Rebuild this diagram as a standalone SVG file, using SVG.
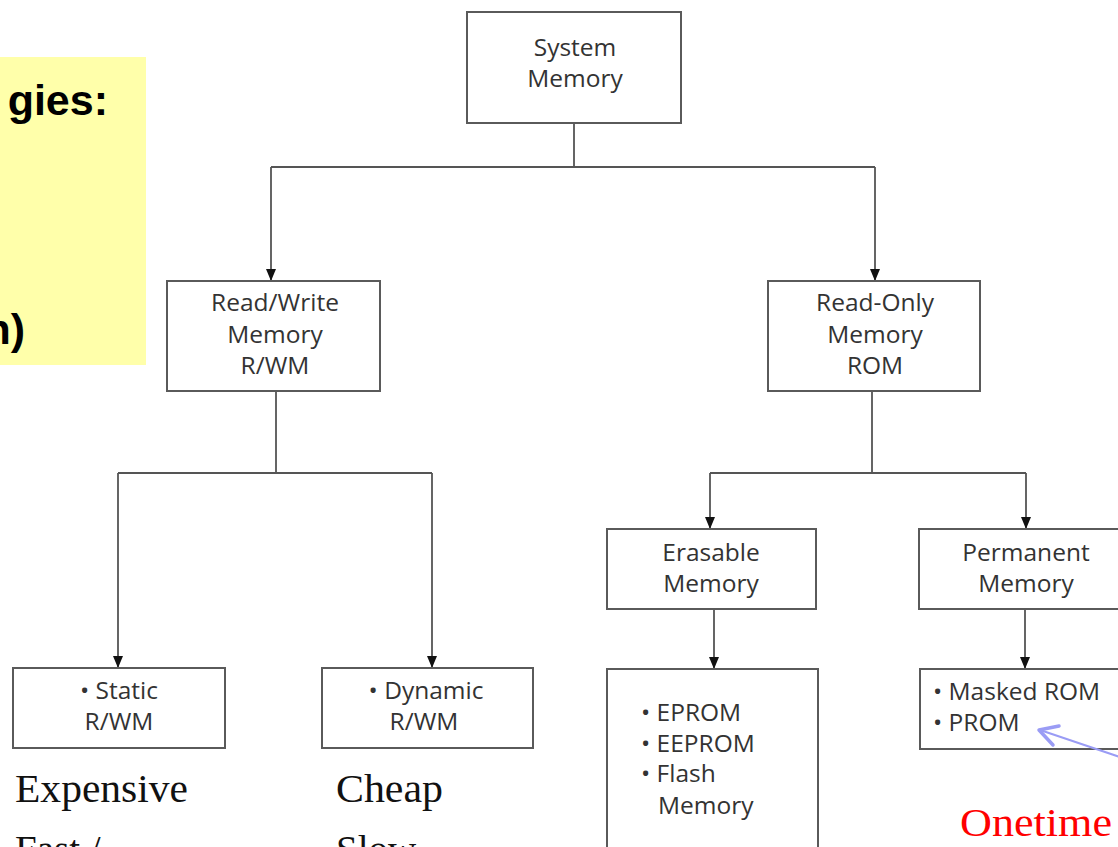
<svg xmlns="http://www.w3.org/2000/svg" width="1118" height="847" viewBox="0 0 1118 847">
<defs>
<style>
.box{fill:#fff;stroke:#5a5a5a;stroke-width:2}
.t{font-family:"Open Sans","DejaVu Sans",sans-serif;font-size:24.5px;fill:#333;text-anchor:middle}
.l{font-family:"Open Sans","DejaVu Sans",sans-serif;font-size:24.5px;fill:#333}
.c{stroke:#555;stroke-width:1.8;fill:none}
.s{font-family:"Liberation Serif","Times New Roman",serif;font-size:39px;fill:#111}
</style>
</defs>
<rect width="1118" height="847" fill="#fff"/>
<g id="note">
<rect x="-2" y="57" width="148" height="308" fill="#ffffaa"/>
<text x="108" y="115" font-family="Liberation Sans,Arial,sans-serif" font-weight="bold" font-size="43" text-anchor="end" fill="#000">gies:</text>
<text x="25" y="344" font-family="Liberation Sans,Arial,sans-serif" font-weight="bold" font-size="43" text-anchor="end" fill="#000">n)</text>
</g>
<g id="connectors">
<path class="c" d="M574,123 V167 M271,167 H875"/>
<line class="c" x1="271" y1="167" x2="271" y2="281"/>
<line class="c" x1="875" y1="167" x2="875" y2="281"/>
<path class="c" d="M276,391 V473 M118,473 H432"/>
<line class="c" x1="118" y1="473" x2="118" y2="668"/>
<line class="c" x1="432" y1="473" x2="432" y2="668"/>
<path class="c" d="M872,391 V473 M710,473 H1026"/>
<line class="c" x1="710" y1="473" x2="710" y2="529"/>
<line class="c" x1="1026" y1="473" x2="1026" y2="529"/>
<line class="c" x1="714" y1="609" x2="714" y2="669"/>
<line class="c" x1="1025" y1="609" x2="1025" y2="669"/>
<g fill="#111">
<path d="M266,269 L276,269 L271,281 Z"/>
<path d="M870,269 L880,269 L875,281 Z"/>
<path d="M113,656 L123,656 L118,668 Z"/>
<path d="M427,656 L437,656 L432,668 Z"/>
<path d="M705,517 L715,517 L710,529 Z"/>
<path d="M1021,517 L1031,517 L1026,529 Z"/>
<path d="M709,657 L719,657 L714,669 Z"/>
<path d="M1020,657 L1030,657 L1025,669 Z"/>
</g>
</g>
<g id="system">
<rect class="box" x="467" y="12" width="214" height="111"/>
<text class="t" x="575" y="56">System</text>
<text class="t" x="575" y="87">Memory</text>
</g>
<g id="rwm">
<rect class="box" x="167" y="281" width="213" height="110"/>
<text class="t" x="275" y="311">Read/Write</text>
<text class="t" x="275" y="343">Memory</text>
<text class="t" x="275" y="374">R/WM</text>
</g>
<g id="rom">
<rect class="box" x="768" y="281" width="212" height="110"/>
<text class="t" x="875" y="311">Read-Only</text>
<text class="t" x="875" y="343">Memory</text>
<text class="t" x="875" y="374">ROM</text>
</g>
<g id="static">
<rect class="box" x="13" y="668" width="212" height="80"/>
<text class="t" x="119" y="699">• Static</text>
<text class="t" x="119" y="730">R/WM</text>
</g>
<g id="dynamic">
<rect class="box" x="322" y="668" width="211" height="80"/>
<text class="t" x="426" y="699">• Dynamic</text>
<text class="t" x="424" y="730">R/WM</text>
</g>
<g id="erasable">
<rect class="box" x="607" y="529" width="209" height="80"/>
<text class="t" x="711" y="561">Erasable</text>
<text class="t" x="711" y="592">Memory</text>
</g>
<g id="permanent">
<rect class="box" x="919" y="529" width="212" height="80"/>
<text class="t" x="1026" y="561">Permanent</text>
<text class="t" x="1026" y="592">Memory</text>
</g>
<g id="erasable-list">
<rect class="box" x="607" y="669" width="211" height="190"/>
<text class="l" x="641" y="721">• EPROM</text>
<text class="l" x="641" y="752">• EEPROM</text>
<text class="l" x="641" y="782">• Flash</text>
<text class="l" x="658" y="814">Memory</text>
</g>
<g id="permanent-list">
<rect class="box" x="920" y="669" width="212" height="80"/>
<text class="l" x="933" y="700">• Masked ROM</text>
<text class="l" x="933" y="731">• PROM</text>
</g>
<g id="pointer" stroke="#9a9cf5" fill="none" stroke-linecap="round">
<line x1="1120" y1="757" x2="1040" y2="730" stroke-width="2"/>
<path d="M1059,726 L1039,730 L1053,745" stroke-width="3.5" stroke-linejoin="round"/>
</g>
<g id="notes">
<text class="s" x="15" y="802" textLength="173" lengthAdjust="spacingAndGlyphs">Expensive</text>
<text class="s" x="15" y="863">Fast /</text>
<text class="s" x="336" y="802" textLength="107" lengthAdjust="spacingAndGlyphs">Cheap</text>
<text class="s" x="336" y="863">Slow</text>
<text class="s" x="960" y="836" textLength="152" lengthAdjust="spacingAndGlyphs" style="fill:#ff0000">Onetime</text>
</g>
</svg>
